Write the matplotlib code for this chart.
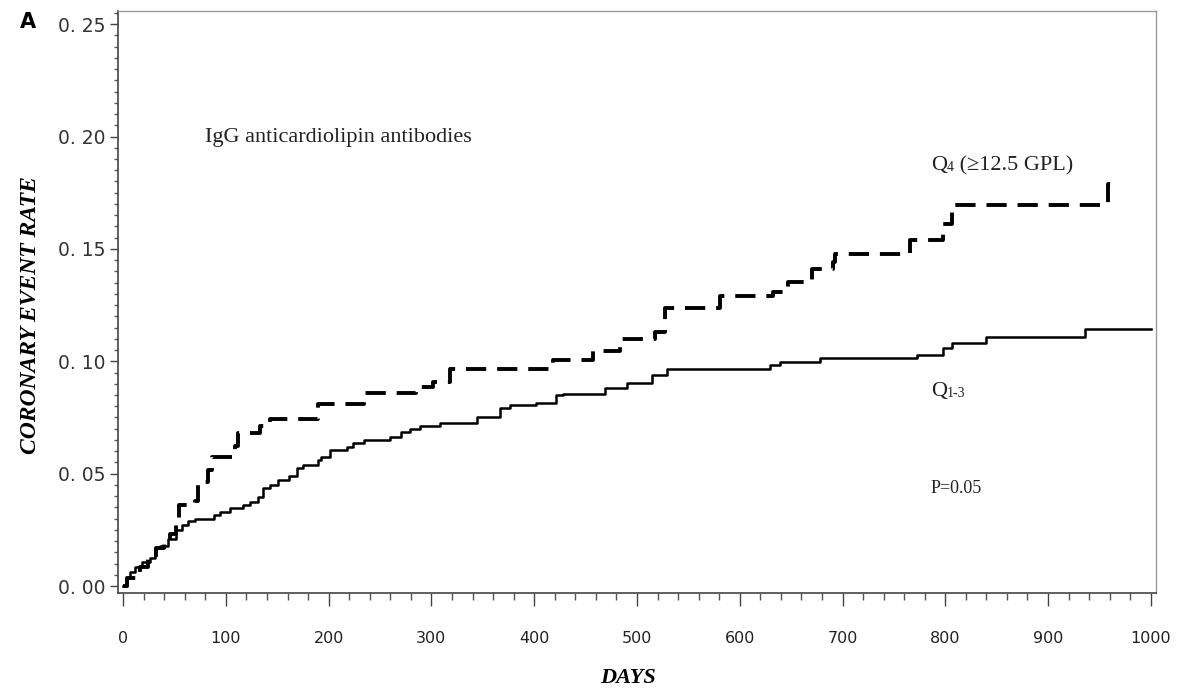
import numpy as np
import matplotlib
matplotlib.use('Agg')
import matplotlib.pyplot as plt
from matplotlib.ticker import MultipleLocator

# Q1-3 (solid) step curve: day of step, event rate after step
q13_days = [0, 3.5, 7, 12, 18, 26, 31, 36, 44, 51, 57, 63, 70, 88, 94, 104, 117, 123,
            131, 136, 143, 151, 161, 169, 175, 190, 193, 201, 218, 224, 234, 260, 270,
            279, 289, 308, 344, 367, 376, 402, 421, 428, 469, 490, 515, 529, 629, 639,
            678, 772, 798, 807, 840, 936, 1000]
q13_rate = [0.0, 0.0036, 0.0064, 0.0086, 0.0108, 0.0125, 0.017, 0.018, 0.021, 0.025,
            0.027, 0.029, 0.030, 0.0316, 0.033, 0.0347, 0.036, 0.0375, 0.0397, 0.0436,
            0.045, 0.047, 0.049, 0.0525, 0.054, 0.056, 0.0575, 0.0605, 0.062, 0.0636,
            0.065, 0.0665, 0.0687, 0.070, 0.071, 0.0725, 0.0753, 0.079, 0.0805, 0.0815,
            0.085, 0.0854, 0.088, 0.0905, 0.094, 0.0965, 0.0983, 0.0998, 0.1014, 0.1028,
            0.106, 0.1082, 0.111, 0.1143, 0.1143]

# Q4 (dashed) step curve
q4_days = [0, 4, 16, 24, 32, 40, 46, 51, 54, 70, 73, 83, 86, 109, 112, 133, 143, 190,
           234, 285, 302, 318, 418, 457, 483, 518, 527, 581, 632, 647, 670, 691, 693,
           766, 798, 807, 958, 961]
q4_rate = [0.0, 0.0036, 0.0085, 0.0125, 0.017, 0.020, 0.023, 0.029, 0.036, 0.038,
           0.0465, 0.0515, 0.0575, 0.0625, 0.068, 0.071, 0.0745, 0.081, 0.0857, 0.0887,
           0.091, 0.0965, 0.1005, 0.1045, 0.110, 0.113, 0.1237, 0.129, 0.131, 0.1354,
           0.1412, 0.1443, 0.1477, 0.154, 0.161, 0.1695, 0.179, 0.179]

y_ticks = [0.0, 0.05, 0.10, 0.15, 0.20, 0.25]
y_ticklabels = ['0. 00', '0. 05', '0. 10', '0. 15', '0. 20', '0. 25']
x_ticks = list(range(0, 1001, 100))

serif = ['Liberation Serif', 'DejaVu Serif']

fig = plt.figure(figsize=(11.81, 6.92), dpi=100)
ax = fig.add_axes([0.0999, 0.143, 0.8789, 0.841])

ax.step(q13_days, q13_rate, where='post', color='black', linewidth=1.8)
ax.step(q4_days, q4_rate, where='post', color='black', linewidth=2.8,
        dashes=(5.2, 2.8), dash_capstyle='butt')

ax.set_xlim(-5, 1005)
ax.set_ylim(-0.0031, 0.2558)

ax.set_yticks(y_ticks)
ax.set_yticklabels(y_ticklabels)
ax.set_xticks(x_ticks)
ax.xaxis.set_minor_locator(MultipleLocator(20))
ax.yaxis.set_minor_locator(MultipleLocator(0.005))

ax.tick_params(axis='y', which='major', direction='out', length=6, width=1,
               color='#444444', labelsize=13.5, pad=3, labelcolor='#333333')
ax.tick_params(axis='y', which='minor', direction='out', length=3, width=1, color='#555555')
ax.tick_params(axis='x', which='major', direction='out', length=9, width=1,
               color='#444444', labelsize=11.5, pad=18, labelcolor='#222222')
ax.tick_params(axis='x', which='minor', direction='out', length=5, width=1, color='#555555')

for side in ['left', 'bottom']:
    ax.spines[side].set_color('#444444')
    ax.spines[side].set_linewidth(1.2)
for side in ['top', 'right']:
    ax.spines[side].set_color('#999999')
    ax.spines[side].set_linewidth(1.0)

# axis titles placed in figure coordinates
fig.text(0.026, 0.545, 'CORONARY EVENT RATE', family=serif, fontsize=17,
         fontweight='bold', fontstyle='italic', rotation=90, ha='center', va='center')
fig.text(0.532, 0.02, 'DAYS', family=serif, fontsize=16, fontweight='bold',
         fontstyle='italic', ha='center', va='center')

ax.text(80, 0.1995, 'IgG anticardiolipin antibodies', family=serif, fontsize=16,
        va='center', ha='left', color='#222222')

# labels with subscripts: main letter, then a smaller text right after it
q4 = ax.text(786, 0.187, 'Q', family=serif, fontsize=16, va='center', ha='left',
             color='#222222')
q4_sub = ax.annotate('4', xy=(1, 0), xycoords=q4, xytext=(0, 1),
                     textcoords='offset points', family=serif, fontsize=10,
                     va='bottom', ha='left', color='#222222')
ax.annotate(' (≥12.5 GPL)', xy=(1, 0.5), xycoords=(q4_sub, q4), xytext=(0, 0),
            textcoords='offset points', family=serif, fontsize=16,
            va='center', ha='left', color='#222222')

q13 = ax.text(786, 0.0865, 'Q', family=serif, fontsize=16, va='center', ha='left',
              color='#222222')
ax.annotate('1-3', xy=(1, 0), xycoords=q13, xytext=(0, 1),
            textcoords='offset points', family=serif, fontsize=10,
            va='bottom', ha='left', color='#222222')

ax.text(786, 0.0435, 'P=0.05', family=serif, fontsize=13,
        va='center', ha='left', color='#222222')

fig.text(0.017, 0.968, 'A', fontsize=15, fontweight='bold', family='DejaVu Sans',
         va='center', ha='left')

fig.savefig('out.png', dpi=100)
